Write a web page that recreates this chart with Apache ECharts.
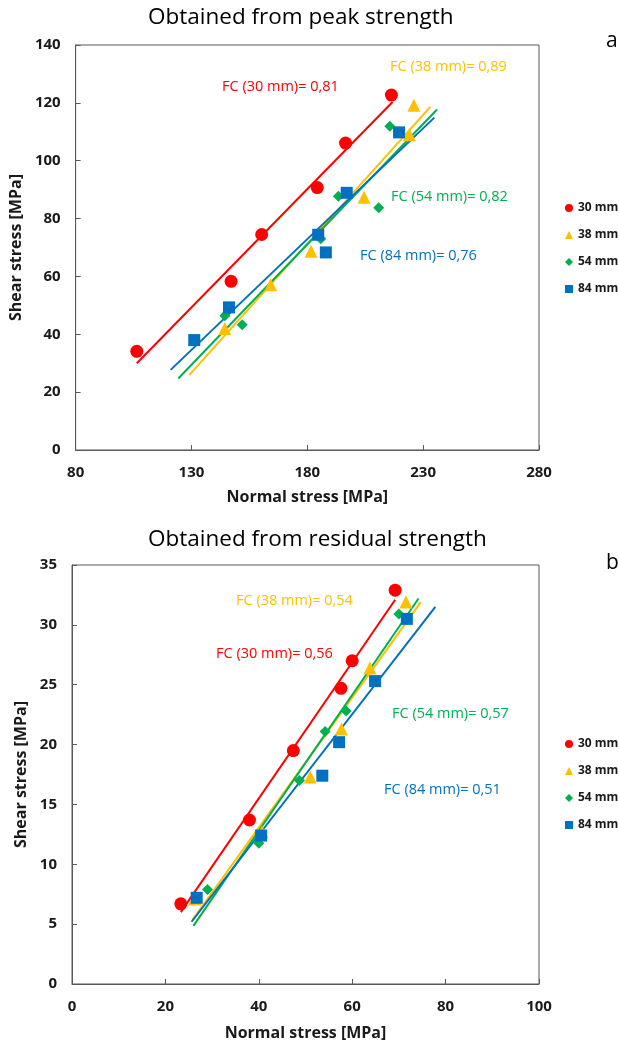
<!DOCTYPE html>
<html>
<head>
<meta charset="utf-8">
<script src="https://cdn.jsdelivr.net/npm/echarts@6/dist/echarts.min.js"></script>
<style>html,body{margin:0;padding:0;background:#fff;}#c{width:619px;height:1045px;}</style>
</head>
<body>
<div id="c"></div>
<script>
// ---- Panel a: peak strength ----
var peakX30 = [106.4, 147.1, 160.3, 184.3, 196.5, 216.3];
var peakY30 = [34.1, 58.3, 74.5, 90.7, 106.1, 122.7];
var peakX38 = [144.4, 164.2, 181.6, 204.5, 224.0, 226.0];
var peakY38 = [42.0, 57.1, 68.7, 87.4, 109.0, 119.2];
var peakX54 = [144.4, 151.9, 185.8, 193.4, 210.8, 215.6];
var peakY54 = [46.4, 43.3, 73.0, 87.7, 83.7, 111.9];
var peakX84 = [131.2, 146.2, 184.7, 188.0, 197.0, 219.6];
var peakY84 = [38.0, 49.3, 74.4, 68.3, 88.9, 109.8];
// trendline endpoints [x, y]
var peakTrend30 = [[106.4, 30.0], [216.8, 120.3]];
var peakTrend38 = [[129.0, 25.9], [233.1, 118.6]];
var peakTrend54 = [[124.3, 24.7], [236.0, 117.7]];
var peakTrend84 = [[121.0, 27.7], [234.8, 114.9]];
var peakXTicks = [80, 130, 180, 230, 280];

// ---- Panel b: residual strength ----
var resX30 = [23.3, 38.0, 47.4, 57.6, 60.0, 69.2];
var resY30 = [6.7, 13.7, 19.5, 24.7, 27.0, 32.9];
var resX38 = [26.3, 40.7, 51.0, 57.7, 63.8, 71.5];
var resY38 = [7.1, 12.7, 17.3, 21.3, 26.4, 31.9];
var resX54 = [29.0, 40.0, 48.7, 54.2, 58.7, 70.0];
var resY54 = [7.9, 11.75, 17.0, 21.1, 22.8, 30.9];
var resX84 = [26.7, 40.5, 53.6, 57.2, 64.9, 71.7];
var resY84 = [7.2, 12.4, 17.4, 20.2, 25.3, 30.5];
var resTrend30 = [[23.3, 6.0], [69.2, 32.1]];
var resTrend38 = [[25.8, 5.35], [74.7, 31.9]];
var resTrend54 = [[26.0, 4.85], [74.2, 32.2]];
var resTrend84 = [[25.6, 5.2], [77.8, 31.5]];

var names = ['30 mm', '38 mm', '54 mm', '84 mm'];
var peakFC = ['FC (30 mm)= 0,81', 'FC (38 mm)= 0,89', 'FC (54 mm)= 0,82', 'FC (84 mm)= 0,76'];
var resFC = ['FC (30 mm)= 0,56', 'FC (38 mm)= 0,54', 'FC (54 mm)= 0,57', 'FC (84 mm)= 0,51'];

var colors = ['#FF0000', '#FFC000', '#00B050', '#0070C0'];
var symbols = ['circle', 'triangle', 'diamond', 'rect'];
var symSizes = [13, 13, 11, 12];
var FONT = '"Open Sans", sans-serif';

function zip(xs, ys) { return xs.map(function (x, i) { return [x, ys[i]]; }); }

var peakPts = [zip(peakX30, peakY30), zip(peakX38, peakY38), zip(peakX54, peakY54), zip(peakX84, peakY84)];
var peakTr = [peakTrend30, peakTrend38, peakTrend54, peakTrend84];
var resPts = [zip(resX30, resY30), zip(resX38, resY38), zip(resX54, resY54), zip(resX84, resY84)];
var resTr = [resTrend30, resTrend38, resTrend54, resTrend84];

var series = [];
function addPanel(pts, tr, idx) {
  for (var i = 0; i < 4; i++) {
    series.push({
      type: 'line', name: 'trend' + idx + i, xAxisIndex: idx, yAxisIndex: idx,
      data: tr[i], showSymbol: false, symbol: 'none', silent: true,
      lineStyle: { color: colors[i], width: 2 }, z: 2
    });
  }
  for (var j = 0; j < 4; j++) {
    series.push({
      type: 'scatter', name: names[j], xAxisIndex: idx, yAxisIndex: idx,
      data: pts[j], symbol: symbols[j], symbolSize: symSizes[j],
      itemStyle: { color: colors[j], opacity: 1 }, z: 3
    });
  }
}
addPanel(peakPts, peakTr, 0);
addPanel(resPts, resTr, 1);

var axisLineStyle = { color: '#595959', width: 1 };
var labelStyle = { color: '#1a1a1a', fontFamily: FONT, fontWeight: 'bold', fontSize: 15 };
var nameStyle = { color: '#1a1a1a', fontFamily: FONT, fontWeight: 'bold', fontSize: 16 };

function txt(t, x, y, color, size) {
  return { type: 'text', left: x, top: y, style: { text: t, fill: color, font: (size || 14.5) + 'px ' + FONT } };
}

var option = {
  animation: false,
  backgroundColor: '#fff',
  grid: [
    { left: 71, top: 45, width: 468, height: 405, show: true, borderColor: '#595959', borderWidth: 1, containLabel: false },
    { left: 72, top: 565, width: 467, height: 419, show: true, borderColor: '#595959', borderWidth: 1, containLabel: false }
  ],
  xAxis: [
    {
      gridIndex: 0, type: 'value', min: 80, max: 280,
      name: 'Normal stress [MPa]', nameLocation: 'middle', nameGap: 39, nameTextStyle: nameStyle,
      axisLine: { lineStyle: axisLineStyle },
      axisTick: { inside: true, length: 5, lineStyle: axisLineStyle, customValues: peakXTicks },
      axisLabel: Object.assign({ margin: 15, customValues: peakXTicks }, labelStyle),
      splitLine: { show: false }
    },
    {
      gridIndex: 1, type: 'value', min: 0, max: 100, interval: 20,
      name: 'Normal stress [MPa]', nameLocation: 'middle', nameGap: 41, nameTextStyle: nameStyle,
      axisLine: { lineStyle: axisLineStyle },
      axisTick: { inside: true, length: 5, lineStyle: axisLineStyle },
      axisLabel: Object.assign({ margin: 15 }, labelStyle),
      splitLine: { show: false }
    }
  ],
  yAxis: [
    {
      gridIndex: 0, type: 'value', min: 0, max: 140, interval: 20,
      name: 'Shear stress [MPa]', nameLocation: 'middle', nameGap: 43, nameTextStyle: nameStyle,
      axisLine: { show: true, lineStyle: axisLineStyle },
      axisTick: { show: true, inside: true, length: 5, lineStyle: axisLineStyle },
      axisLabel: Object.assign({ margin: 15 }, labelStyle),
      splitLine: { show: false }
    },
    {
      gridIndex: 1, type: 'value', min: 0, max: 35, interval: 5,
      name: 'Shear stress [MPa]', nameLocation: 'middle', nameGap: 43, nameTextStyle: nameStyle,
      axisLine: { show: true, lineStyle: axisLineStyle },
      axisTick: { show: true, inside: true, length: 5, lineStyle: axisLineStyle },
      axisLabel: Object.assign({ margin: 15 }, labelStyle),
      splitLine: { show: false }
    }
  ],
  legend: [
    {
      data: names, orient: 'vertical', left: 560, top: 196, itemWidth: 8, itemHeight: 8, itemGap: 13,
      textStyle: { color: '#1a1a1a', fontFamily: FONT, fontWeight: 'bold', fontSize: 12, lineHeight: 14 },
      selectedMode: false
    },
    {
      data: names, orient: 'vertical', left: 560, top: 732, itemWidth: 8, itemHeight: 8, itemGap: 13,
      textStyle: { color: '#1a1a1a', fontFamily: FONT, fontWeight: 'bold', fontSize: 12, lineHeight: 14 },
      selectedMode: false
    }
  ],
  graphic: [
    txt('Obtained from peak strength', 148, 6, '#000', 22.5),
    txt('Obtained from residual strength', 148, 528, '#000', 22.5),
    txt('a', 606, 31, '#000', 21),
    txt('b', 606, 553, '#000', 21),
    txt(peakFC[0], 222, 79, colors[0]),
    txt(peakFC[1], 390, 59, colors[1]),
    txt(peakFC[2], 391, 189, colors[2]),
    txt(peakFC[3], 360, 248, colors[3]),
    txt(resFC[1], 236, 593, colors[1]),
    txt(resFC[0], 216, 646, colors[0]),
    txt(resFC[2], 392, 706, colors[2]),
    txt(resFC[3], 384, 782, colors[3])
  ],
  series: series
};

var chart = echarts.init(document.getElementById('c'), null, { renderer: 'canvas' });
chart.setOption(option);
</script>
</body>
</html>
